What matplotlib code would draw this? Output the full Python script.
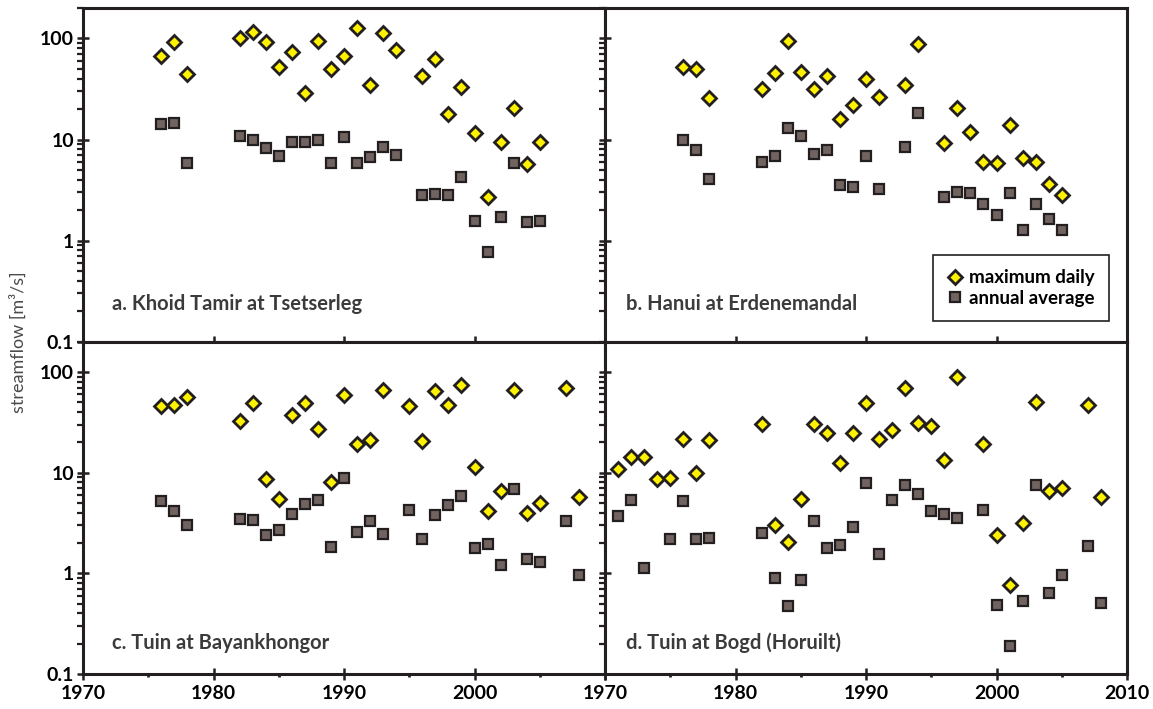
# Streamflow of four Mongolian rivers: maximum daily and annual average,
# log scale, 2x2 panels sharing edges.

import matplotlib

matplotlib.use("Agg")
import matplotlib.pyplot as plt
from matplotlib.lines import Line2D
from matplotlib.ticker import LogLocator, MultipleLocator, NullFormatter

plt.rcParams["font.family"] = ["Lato", "DejaVu Sans"]

# a. Khoid Tamir at Tsetserleg
years_a = [1976, 1977, 1978, 1982, 1983, 1984, 1985, 1986, 1987, 1988, 1989,
           1990, 1991, 1992, 1993, 1994, 1996, 1997, 1998, 1999, 2000, 2001,
           2002, 2003, 2004, 2005]
max_a = [67, 92, 44, 101, 115, 92, 52, 74, 29, 95, 50, 67, 128, 35, 112, 77,
         42.6, 63, 17.9, 33, 11.5, 2.7, 9.5, 20.4, 5.7, 9.5]
avg_a = [14.1, 14.6, 5.9, 10.8, 9.9, 8.2, 6.8, 9.5, 9.5, 9.9, 5.9, 10.5, 5.9,
         6.7, 8.4, 7.1, 2.8, 2.9, 2.85, 4.3, 1.57, 0.78, 1.73, 5.9, 1.52, 1.55]

# b. Hanui at Erdenemandal
years_b = [1976, 1977, 1978, 1982, 1983, 1984, 1985, 1986, 1987, 1988, 1989,
           1990, 1991, 1993, 1994, 1996, 1997, 1998, 1999, 2000, 2001, 2002,
           2003, 2004, 2005]
max_b = [52, 50, 25.6, 31.9, 45.7, 95, 47, 31.9, 42.6, 16, 21.8, 40, 26.4, 35,
         89, 9.2, 20.4, 11.9, 6.0, 5.9, 13.8, 6.5, 6.0, 3.66, 2.8]
avg_b = [10.0, 7.9, 4.1, 6.0, 6.8, 12.9, 10.9, 7.2, 7.9, 3.55, 3.39, 6.9, 3.24,
         8.5, 18.2, 2.7, 3.0, 2.97, 2.3, 1.79, 2.93, 1.27, 2.3, 1.64, 1.26]

# c. Tuin at Bayankhongor
years_c = [1976, 1977, 1978, 1982, 1983, 1984, 1985, 1986, 1987, 1988, 1989,
           1990, 1991, 1992, 1993, 1995, 1996, 1997, 1998, 1999, 2000, 2001,
           2002, 2003, 2004, 2005, 2007, 2008]
max_c = [45.6, 47, 57, 32.8, 48.8, 8.6, 5.5, 37, 48.8, 27, 8.0, 59, 19.1, 21.2,
         67, 45.6, 20.4, 65, 47, 74, 11.3, 4.2, 6.6, 67, 3.96, 4.98, 69, 5.7]
avg_c = [5.2, 4.2, 3.0, 3.5, 3.35, 2.38, 2.69, 3.87, 4.83, 5.37, 1.82, 8.8,
         2.57, 3.33, 2.45, 4.27, 2.17, 3.76, 4.72, 5.8, 1.78, 1.96, 1.2, 6.9,
         1.4, 1.3, 3.3, 0.97]

# d. Tuin at Bogd (Horuilt)
years_d_max = [1971, 1972, 1973, 1974, 1975, 1976, 1977, 1978, 1982, 1983,
               1984, 1985, 1986, 1987, 1988, 1989, 1990, 1991, 1992, 1993,
               1994, 1995, 1996, 1997, 1999, 2000, 2001, 2002, 2003, 2004,
               2005, 2007, 2008]
max_d = [10.8, 14.4, 14.4, 8.7, 8.8, 21.7, 10.0, 21.1, 30.2, 3.0, 2.07, 5.5,
         30.2, 24.7, 12.6, 25, 48.8, 21.7, 26.3, 69, 31.1, 29, 13.4, 90, 19.1,
         2.38, 0.76, 3.15, 50, 6.6, 7.1, 47, 5.7]
years_d_avg = [1971, 1972, 1973, 1975, 1976, 1977, 1978, 1982, 1983, 1984,
               1985, 1986, 1987, 1988, 1989, 1990, 1991, 1992, 1993, 1994,
               1995, 1996, 1997, 1999, 2000, 2001, 2002, 2003, 2004, 2005,
               2007, 2008]
avg_d = [3.7, 5.4, 1.12, 2.17, 5.2, 2.17, 2.24, 2.53, 0.89, 0.47, 0.86, 3.3,
         1.78, 1.92, 2.9, 7.9, 1.56, 5.3, 7.6, 6.1, 4.15, 3.88, 3.56, 4.27,
         0.485, 0.19, 0.535, 7.5, 0.64, 0.955, 1.86, 0.51]

titles = ["a. Khoid Tamir at Tsetserleg", "b. Hanui at Erdenemandal",
          "c. Tuin at Bayankhongor", "d. Tuin at Bogd (Horuilt)"]
y_ticks = [0.1, 1, 10, 100]
y_tick_labels = ["0.1", "1", "10", "100"]
x_ticks = [1970, 1980, 1990, 2000, 2010]

INK = "#231f20"
YELLOW = "#fff200"
SQUARE = "#716360"
LABEL = "#3b3b3b"

W, H = 1153, 709
fig = plt.figure(figsize=(W / 100, H / 100), dpi=100)

x0, xm, x1 = 83 / W, 605 / W, 1127 / W
y1, ym, y0 = 1 - 8 / H, 1 - 341.7 / H, 1 - 674 / H

ax_a = fig.add_axes([x0, ym, xm - x0, y1 - ym])
ax_b = fig.add_axes([xm, ym, x1 - xm, y1 - ym])
ax_c = fig.add_axes([x0, y0, xm - x0, ym - y0])
ax_d = fig.add_axes([xm, y0, x1 - xm, ym - y0])


def draw(ax, yrs_max, vmax, yrs_avg, vavg):
    ax.plot(yrs_avg, vavg, "s", ms=7.6, mfc=SQUARE, mec=INK, mew=1.6,
            clip_on=False, zorder=3)
    ax.plot(yrs_max, vmax, "D", ms=7.4, mfc=YELLOW, mec=INK, mew=2.0,
            clip_on=False, zorder=4)


def style_axes(ax, title, ylabels, xlabels, ty):
    ax.set_yscale("log")
    ax.set_ylim(0.1, 200)
    ax.set_xlim(1970, 2010)
    for s in ax.spines.values():
        s.set_color(INK)
        s.set_linewidth(2.2)
    ax.set_yticks(y_ticks)
    ax.yaxis.set_minor_locator(LogLocator(base=10, subs=range(2, 10)))
    ax.yaxis.set_minor_formatter(NullFormatter())
    ax.set_xticks(x_ticks)
    ax.xaxis.set_minor_locator(MultipleLocator(5))
    ax.tick_params(axis="y", which="major", direction="inout", length=9,
                   width=1.8, color=INK, pad=2)
    ax.tick_params(axis="y", which="minor", direction="out", length=4.5,
                   width=1.6, color=INK)
    ax.tick_params(axis="x", which="major", direction="inout", length=8,
                   width=1.8, color=INK, pad=4)
    ax.tick_params(axis="x", which="minor", direction="out", length=2.5,
                   width=2.0, color=INK)
    if ylabels:
        ax.set_yticklabels(y_tick_labels, fontsize=14, fontweight="bold")
    else:
        ax.set_yticklabels([])
    if xlabels is None:
        ax.set_xticklabels([])
    else:
        ax.set_xticklabels(xlabels, fontsize=14, fontweight="bold")
    tx = 0.055 if ylabels else 0.04
    ax.text(tx, ty, title, transform=ax.transAxes, fontsize=14.5,
            fontweight="bold", color=LABEL, va="center", ha="left")


draw(ax_a, years_a, max_a, years_a, avg_a)
draw(ax_b, years_b, max_b, years_b, avg_b)
draw(ax_c, years_c, max_c, years_c, avg_c)
draw(ax_d, years_d_max, max_d, years_d_avg, avg_d)

style_axes(ax_a, titles[0], True, None, 0.113)
style_axes(ax_b, titles[1], False, None, 0.113)
style_axes(ax_c, titles[2], True, ["1970", "1980", "1990", "2000", ""], 0.094)
style_axes(ax_d, titles[3], False, [str(x) for x in x_ticks], 0.094)

handles = [
    Line2D([], [], ls="none", marker="D", ms=7.4, mfc=YELLOW, mec=INK,
           mew=2.0, label="maximum daily"),
    Line2D([], [], ls="none", marker="s", ms=7.6, mfc=SQUARE, mec=INK,
           mew=1.6, label="annual average"),
]
leg = ax_b.legend(handles=handles, loc="lower right",
                  bbox_to_anchor=(0.9655, 0.062), frameon=True,
                  fancybox=False, edgecolor=INK, framealpha=1,
                  prop={"weight": "bold", "size": 13.5}, handlelength=0.9,
                  handletextpad=0.3, labelspacing=0.2, borderpad=0.75,
                  borderaxespad=0)
leg.get_frame().set_linewidth(1.2)

fig.text(0.016, ym, "streamflow [m\u00b3/s]", rotation=90, ha="center",
         va="center", fontsize=13, color="#4a4a4a")

fig.savefig("out.png", dpi=100)
